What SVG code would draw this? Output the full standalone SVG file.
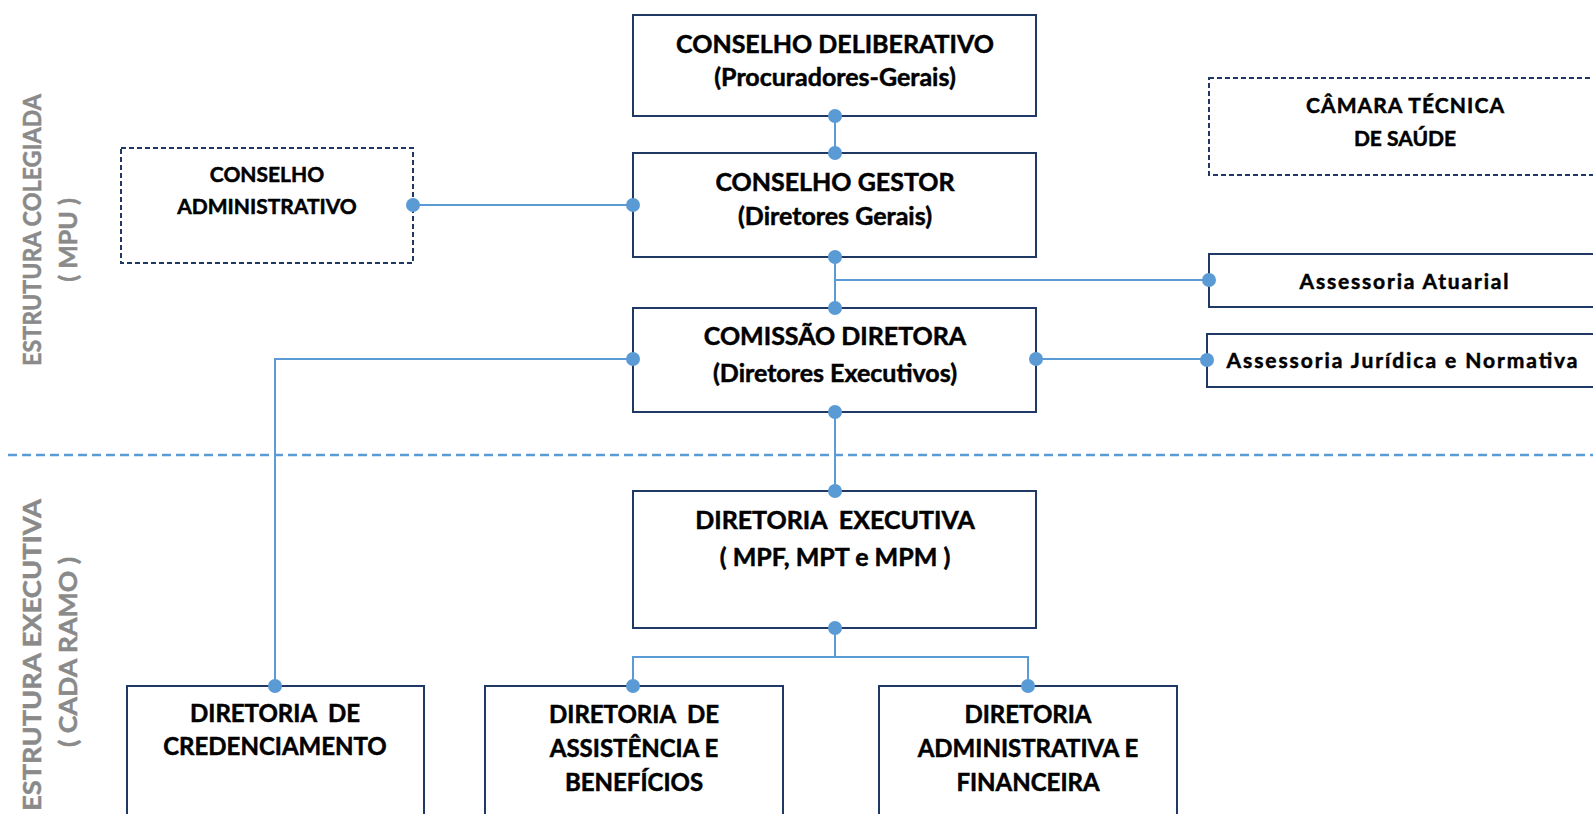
<svg xmlns="http://www.w3.org/2000/svg" width="1593" height="814" viewBox="0 0 1593 814">
<defs>
<style>
.box{fill:#fff;stroke:#1f3864;stroke-width:2}
.dbox{fill:#fff;stroke:#1f3864;stroke-width:2;stroke-dasharray:5 3}
.ln{fill:none;stroke:#5b9bd5;stroke-width:2}
.dot{fill:#5b9bd5}
.t{font-family:Lato,"Liberation Sans",sans-serif;font-weight:bold;fill:#000;stroke:#000;stroke-width:0.5;text-anchor:middle}
.big{font-size:25px}
.mid{font-size:24px}
.sm{font-size:21px}
.side{font-family:Lato,"Liberation Sans",sans-serif;font-weight:bold;fill:#8a8a8a;stroke:#8a8a8a;stroke-width:0.5;font-size:25px;text-anchor:middle}
</style>
</defs>
<rect width="1593" height="814" fill="#fff"/>

<g id="side-labels">
<text class="side" transform="translate(41,230) rotate(-90)" textLength="272" lengthAdjust="spacingAndGlyphs">ESTRUTURA COLEGIADA</text>
<text class="side" transform="translate(77,240) rotate(-90)">( MPU )</text>
<text class="side" transform="translate(41,655) rotate(-90)" textLength="312" lengthAdjust="spacingAndGlyphs">ESTRUTURA EXECUTIVA</text>
<text class="side" transform="translate(77,652) rotate(-90)" textLength="190" lengthAdjust="spacingAndGlyphs">( CADA RAMO )</text>
</g>

<line x1="8" y1="455" x2="1593" y2="455" stroke="#5b9bd5" stroke-width="2.5" stroke-dasharray="9 5"/>

<g id="connectors">
<path class="ln" d="M835,116 V153"/>
<path class="ln" d="M413,205 H633"/>
<path class="ln" d="M835,257 V308 M835,280 H1209"/>
<path class="ln" d="M633,359 H275 V686"/>
<path class="ln" d="M1036,359 H1207"/>
<path class="ln" d="M835,412 V491"/>
<path class="ln" d="M835,628 V657 M633,686 V657 H1028 V686"/>
</g>

<g id="conselho-deliberativo">
<rect class="box" x="633" y="15" width="403" height="101"/>
<text class="t big" x="835" y="53">CONSELHO DELIBERATIVO</text>
<text class="t big" x="835" y="86">(Procuradores-Gerais)</text>
</g>

<g id="conselho-gestor">
<rect class="box" x="633" y="153" width="403" height="104"/>
<text class="t big" x="835" y="191">CONSELHO GESTOR</text>
<text class="t big" x="835" y="225">(Diretores Gerais)</text>
</g>

<g id="conselho-administrativo">
<rect class="dbox" x="121" y="148" width="292" height="115"/>
<text class="t sm" x="267" y="182">CONSELHO</text>
<text class="t sm" x="267" y="214">ADMINISTRATIVO</text>
</g>

<g id="camara-tecnica">
<rect class="dbox" x="1209" y="78" width="400" height="97"/>
<text class="t sm" x="1405" y="113" textLength="198" lengthAdjust="spacing">CÂMARA TÉCNICA</text>
<text class="t sm" x="1405" y="146">DE SAÚDE</text>
</g>

<g id="assessoria-atuarial">
<rect class="box" x="1209" y="254" width="400" height="53"/>
<text class="t sm" x="1404" y="289" textLength="209" lengthAdjust="spacing">Assessoria Atuarial</text>
</g>

<g id="assessoria-juridica">
<rect class="box" x="1207" y="334" width="400" height="53"/>
<text class="t sm" x="1402" y="368" textLength="351" lengthAdjust="spacing">Assessoria Jurídica e Normativa</text>
</g>

<g id="comissao-diretora">
<rect class="box" x="633" y="308" width="403" height="104"/>
<text class="t big" x="835" y="345">COMISSÃO DIRETORA</text>
<text class="t big" x="835" y="382">(Diretores Executivos)</text>
</g>

<g id="diretoria-executiva">
<rect class="box" x="633" y="491" width="403" height="137"/>
<text class="t big" x="835" y="529" xml:space="preserve">DIRETORIA  EXECUTIVA</text>
<text class="t big" x="835" y="566">( MPF, MPT e MPM )</text>
</g>

<g id="diretoria-credenciamento">
<rect class="box" x="127" y="686" width="297" height="150"/>
<text class="t mid" x="275" y="722" xml:space="preserve">DIRETORIA  DE</text>
<text class="t mid" x="275" y="755">CREDENCIAMENTO</text>
</g>

<g id="diretoria-assistencia">
<rect class="box" x="485" y="686" width="298" height="150"/>
<text class="t mid" x="634" y="723" xml:space="preserve">DIRETORIA  DE</text>
<text class="t mid" x="634" y="757">ASSISTÊNCIA E</text>
<text class="t mid" x="634" y="791">BENEFÍCIOS</text>
</g>

<g id="diretoria-administrativa">
<rect class="box" x="879" y="686" width="298" height="150"/>
<text class="t mid" x="1028" y="723">DIRETORIA</text>
<text class="t mid" x="1028" y="757">ADMINISTRATIVA E</text>
<text class="t mid" x="1028" y="791">FINANCEIRA</text>
</g>

<g id="dots">
<circle class="dot" cx="835" cy="116" r="7"/>
<circle class="dot" cx="835" cy="153" r="7"/>
<circle class="dot" cx="413" cy="205" r="7"/>
<circle class="dot" cx="633" cy="205" r="7"/>
<circle class="dot" cx="835" cy="257" r="7"/>
<circle class="dot" cx="835" cy="308" r="7"/>
<circle class="dot" cx="1209" cy="280" r="7"/>
<circle class="dot" cx="633" cy="359" r="7"/>
<circle class="dot" cx="1036" cy="359" r="7"/>
<circle class="dot" cx="1207" cy="360" r="7"/>
<circle class="dot" cx="835" cy="412" r="7"/>
<circle class="dot" cx="835" cy="491" r="7"/>
<circle class="dot" cx="835" cy="628" r="7"/>
<circle class="dot" cx="275" cy="686" r="7"/>
<circle class="dot" cx="633" cy="686" r="7"/>
<circle class="dot" cx="1028" cy="686" r="7"/>
</g>
</svg>
